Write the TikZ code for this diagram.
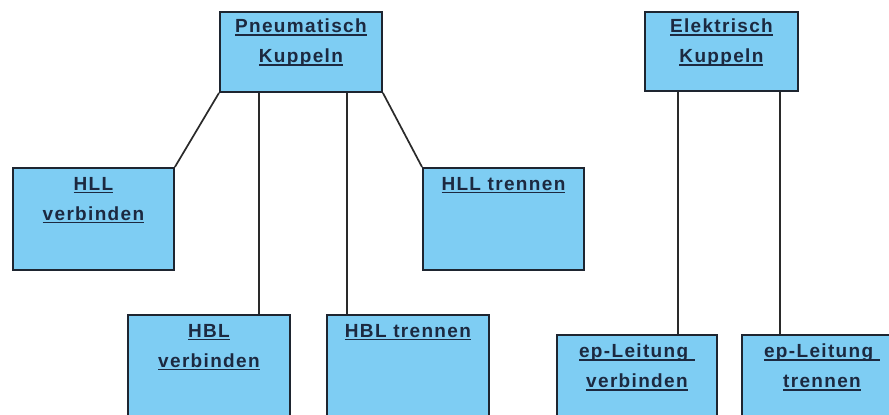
\documentclass[tikz,border=0pt]{standalone}
\usepackage{fontspec}
\setmainfont{Liberation Sans}
\definecolor{boxfill}{HTML}{7ECDF3}
\definecolor{boxline}{HTML}{1E2530}
\definecolor{txt}{HTML}{1C2940}
\definecolor{wire}{HTML}{2A2A2A}
% underlined word group with the rule just below the baseline
\newcommand\ulx[1]{\setbox0\hbox{#1}\rlap{\rule[-2.6pt]{\wd0}{1.2pt}}\box0}
\begin{document}
\begin{tikzpicture}[x=1pt,y=-1pt,
  box/.style={draw=boxline, fill=boxfill, line width=1.9pt, inner sep=0pt,
    anchor=north west, minimum width=161pt},
  lbl/.style={text=txt, font=\fontsize{19}{30}\selectfont\bfseries\addfontfeatures{LetterSpace=7},
    align=center, inner sep=0pt, anchor=north},
  link/.style={draw=wire, line width=1.7pt}]
\useasboundingbox (0,0) rectangle (889,415);
\clip (0,0) rectangle (889,415);
\fill[white] (0,0) rectangle (889,415);

% top level boxes
\node[box, minimum width=162pt, minimum height=80pt] (pk) at (219,11) {};
\node[box, minimum width=153pt, minimum height=79pt] (ek) at (644,11) {};
% second level
\node[box, minimum height=102pt] (hv) at (12,167) {};
\node[box, minimum height=102pt] (ht) at (422,167) {};
% third level, running past the lower edge
\node[box, minimum width=162pt, minimum height=120pt] (bv) at (127,314) {};
\node[box, minimum width=162pt, minimum height=120pt] (bt) at (326,314) {};
\node[box, minimum width=160pt, minimum height=100pt] (ev) at (556,334) {};
\node[box, minimum width=160pt, minimum height=100pt] (et) at (741,334) {};

% labels
\node[lbl] (pkt) at ([yshift=-8pt]pk.north) {\ulx{Pneumatisch}\\\ulx{Kuppeln}};
\node[lbl] (ekt) at ([yshift=-8pt]ek.north) {\ulx{Elektrisch}\\\ulx{Kuppeln}};
\node[lbl] (hvt) at ([yshift=-10pt]hv.north) {\ulx{HLL}\\\ulx{verbinden}};
\node[lbl] (htt) at ([yshift=-10pt]ht.north) {\ulx{HLL trennen}};
\node[lbl] (bvt) at ([yshift=-10pt]bv.north) {\ulx{HBL}\\\ulx{verbinden}};
\node[lbl] (btt) at ([yshift=-10pt]bt.north) {\ulx{HBL trennen}};
\node[lbl] (evt) at ([yshift=-10pt]ev.north) {\ulx{ep-Leitung\ }\\\ulx{verbinden}};
\node[lbl] (ett) at ([yshift=-10pt]et.north) {\ulx{ep-Leitung\ }\\\ulx{trennen}};

% connectors
\draw[link] (pk.south west) -- (hv.north east);
\draw[link] (pk.south east) -- (ht.north west);
\draw[link] ([xshift=-42pt]pk.south) -- ([xshift=50pt]bv.north);
\draw[link] ([xshift=46pt]pk.south) -- ([xshift=-61pt]bt.north);
\draw[link] ([xshift=-43.5pt]ek.south) -- ([xshift=41pt]ev.north);
\draw[link] ([xshift=58.5pt]ek.south) -- ([xshift=-42pt]et.north);
\end{tikzpicture}
\end{document}
